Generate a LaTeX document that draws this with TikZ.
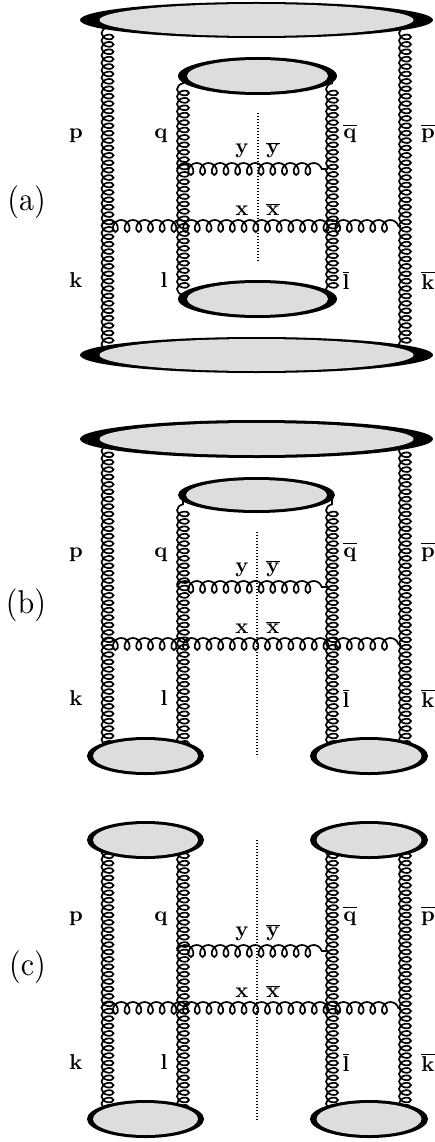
\documentclass[tikz,border=0pt]{standalone}
\usepackage{graphicx}
\usetikzlibrary{decorations.pathmorphing,shapes.geometric}
\definecolor{blobgray}{RGB}{221,221,221}
\font\labfont="[lmroman10-bold]:+tlig;" at 21.5pt
\font\plfont="[lmroman10-regular]:+tlig;" at 30pt
\tikzset{
  vgluon/.style={line width=1.7pt, decorate, decoration={coil, amplitude=6pt, segment length=7.4pt, aspect=0.68}},
  hgluon/.style={line width=1.7pt, decorate, decoration={coil, amplitude=6pt, segment length=11.7pt, aspect=0.85}},
  cutline/.style={line width=1.1pt, dash pattern=on 1.3pt off 1.7pt},
  lab/.style={inner sep=0pt, anchor=base},
  plab/.style={inner sep=0pt, anchor=base},
  blobout/.style={ellipse, fill=black, inner sep=0pt, outer sep=0pt},
  blobin/.style={ellipse, fill=blobgray, inner sep=0pt, outer sep=0pt},
}
\newcommand\lbl[1]{{\labfont #1}}
\newcommand\lblb[2][0pt]{{\fontsize{21.5}{25}\selectfont$\overline{\hbox{\labfont #2}\rule{0pt}{#1}}$}}
\newcommand\plbl[1]{\scalebox{1}[1.1]{\plfont (#1)}}
% name, x, y, W, H, w, h
\newcommand\drawblob[7]{%
  \node[blobout, minimum width=#4pt, minimum height=#5pt] (#1) at (#2,#3) {};
  \node[blobin, minimum width=#6pt, minimum height=#7pt] (#1-in) at (#2,#3) {};
}
% vertical gluon: name, x, ybottom, ytop
\newcommand\vgl[4]{%
  \coordinate (#1-s) at (#2,#3);
  \coordinate (#1-e) at (#2,#4);
  \draw[vgluon] (#1-s) -- (#1-e);
}
\newcommand\gluonmesh[1]{%
  \coordinate (#1yl) at (177,169); \coordinate (#1yr) at (328,169);
  \coordinate (#1xl) at (101.5,226); \coordinate (#1xr) at (401,226);
  \draw[hgluon] (#1yl) -- (#1yr);
  \draw[hgluon] (#1xl) -- (#1xr);
  \node[lab] (#1lp) at (76,139) {\lbl{p}};
  \node[lab] (#1lq) at (161,139) {\lbl{q}};
  \node[lab] (#1lqb) at (350,139) {\lblb[12pt]{q}};
  \node[lab] (#1lpb) at (428,139) {\lblb[12pt]{p}};
  \node[lab] (#1ly) at (242,154) {\lbl{y}};
  \node[lab] (#1lyb) at (273,154) {\lblb{y}};
  \node[lab] (#1lx) at (242,215) {\lbl{x}};
  \node[lab] (#1lxb) at (273,215) {\lblb{x}};
  \node[lab] (#1lk) at (76,287) {\lbl{k}};
  \node[lab] (#1ll) at (164,287) {\lbl{l}};
  \node[lab] (#1llb) at (346,289) {\lblb{l}};
  \node[lab] (#1lkb) at (428,289) {\lblb{k}};
}
\begin{document}
\begin{tikzpicture}[x=1pt,y=-1pt]
\useasboundingbox (0,0) rectangle (435,1142);
% ---------------- panel (a)
\begin{scope}
  \gluonmesh{a}
  \vgl{ap}{107.5}{350}{25}
  \vgl{apb}{405}{350}{25}
  \vgl{aq}{183}{295}{80}
  \vgl{aqb}{332}{295}{80}
  \coordinate (acut1) at (258,113); \coordinate (acut2) at (258,262);
  \draw[cutline] (acut1) -- (acut2);
  \drawblob{aot}{256.5}{20}{353}{36}{314}{32}
  \drawblob{ait}{257.5}{76}{159}{38}{141}{32}
  \drawblob{aib}{257.5}{299}{159}{38}{141}{32}
  \drawblob{aob}{256.5}{355}{353}{36}{314}{32}
\end{scope}
% ---------------- panel (b)
\begin{scope}[yshift=-418pt]
  \gluonmesh{b}
  \vgl{bp}{107.5}{335}{25}
  \vgl{bpb}{405}{335}{25}
  \vgl{bq}{183}{335}{80}
  \vgl{bqb}{332}{335}{80}
  \coordinate (bcut1) at (257,114); \coordinate (bcut2) at (257,339);
  \draw[cutline] (bcut1) -- (bcut2);
  \drawblob{bot}{256.5}{21}{353}{38}{314}{32}
  \drawblob{bit}{256.5}{77}{157}{36}{141}{30}
  \drawblob{bbl}{145.5}{338}{117}{38}{105}{32}
  \drawblob{bbr}{369}{338}{118}{38}{105}{32}
\end{scope}
% ---------------- panel (c)
\begin{scope}[yshift=-782pt]
  \gluonmesh{c}
  \vgl{cp}{107.5}{335}{60}
  \vgl{cpb}{405}{335}{60}
  \vgl{cq}{183}{335}{60}
  \vgl{cqb}{332}{335}{60}
  \coordinate (ccut1) at (257,58); \coordinate (ccut2) at (257,338);
  \draw[cutline] (ccut1) -- (ccut2);
  \drawblob{ctl}{145.5}{58}{117}{38}{105}{32}
  \drawblob{ctr}{369}{58}{118}{38}{105}{32}
  \drawblob{cbl}{145.5}{337}{117}{38}{105}{32}
  \drawblob{cbr}{369}{337}{118}{38}{105}{32}
\end{scope}
% panel labels
\node[plab] (la) at (26.5,211) {\plbl{a}};
\node[plab] (lb) at (26,613.5) {\plbl{b}};
\node[plab] (lc) at (27.5,975) {\plbl{c}};
\end{tikzpicture}
\end{document}
